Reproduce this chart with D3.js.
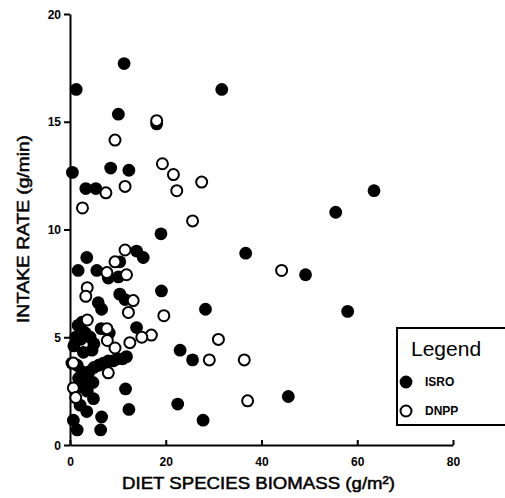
<!DOCTYPE html>
<html>
<head>
<meta charset="utf-8">
<script src="https://cdn.jsdelivr.net/npm/d3@7"></script>
<style>
  body { margin: 0; background: #fff; }
  text { font-family: "Liberation Sans", Arial, sans-serif; fill: #000; }
</style>
</head>
<body>
<script>
// ISRO points (filled), [biomass g/m2, intake g/min]
const isro = [
  [1.3,16.5],[11.3,17.7],[10.1,15.35],[31.7,16.5],[18.1,14.9],[0.5,12.65],[3.3,11.9],[5.4,11.9],
  [8.5,12.85],[12.3,12.75],[19.0,9.8],[63.5,11.8],[55.5,10.8],[36.7,8.9],[49.2,7.9],[58.0,6.2],
  [19.1,7.15],[28.3,6.3],[23.0,4.4],[25.6,3.95],[22.5,1.9],[27.8,1.15],[45.6,2.25],
  [3.5,8.7],[1.7,8.1],[5.6,8.1],[13.9,9.0],[15.3,8.7],[10.4,8.5],[8.0,7.75],[10.1,7.8],
  [5.9,6.6],[6.6,6.3],[10.4,7.0],[11.5,6.75],[13.9,5.45],[8.2,5.2],[6.5,5.4],
  [1.7,5.55],[2.5,5.7],[0.8,4.6],[1.2,5.0],[2.2,4.9],[3.2,5.2],[4.2,5.0],[5.0,4.7],[4.6,4.4],
  [2.8,4.3],[0.4,3.8],[1.5,3.7],[2.5,3.4],[1.8,3.1],[3.2,3.0],[4.0,3.4],[5.0,3.6],[6.0,3.7],
  [7.0,3.8],[8.0,3.9],[9.0,3.9],[10.0,4.0],[11.0,4.0],[11.8,4.1],[2.5,2.7],[3.6,2.5],[4.8,2.9],
  [4.9,2.15],[2.1,1.85],[3.5,1.55],[0.7,1.15],[1.5,0.7],[6.6,1.3],[6.4,0.7],[11.6,2.6],[12.3,1.65]
];
// DNPP points (open)
const dnpp = [
  [18.1,15.05],[9.4,14.15],[19.3,13.05],[21.6,12.55],[22.3,11.8],[27.5,12.2],[7.5,11.7],[11.5,12.0],
  [2.6,11.0],[25.6,10.4],[44.2,8.1],[19.6,6.0],[17.0,5.1],[31.0,4.9],[29.1,3.95],[36.4,3.95],[37.1,2.05],
  [11.5,9.05],[9.4,8.5],[7.7,8.0],[11.8,7.9],[3.6,7.3],[3.3,6.9],[13.2,6.7],[12.2,6.15],
  [7.7,5.4],[3.6,5.8],[7.8,4.85],[9.4,4.5],[12.5,4.75],[15.0,5.0],[8.0,3.35],
  [0.7,3.8],[0.7,2.65],[1.2,2.2]
];
const xTicks = [0, 20, 40, 60, 80];
const yTicks = [0, 5, 10, 15, 20];
const legendItems = ["ISRO", "DNPP"];

const width = 505, height = 498;
const x = d3.scaleLinear().domain([0, 80]).range([70, 453]);
const y = d3.scaleLinear().domain([0, 20]).range([445, 14]);

const svg = d3.select("body").append("svg")
  .attr("width", width).attr("height", height);

// axes
const xAxis = svg.append("g")
  .attr("transform", `translate(0,${y(0)})`)
  .call(d3.axisBottom(x).tickValues(xTicks).tickSizeInner(-5).tickSizeOuter(0).tickPadding(12));
const yAxis = svg.append("g")
  .attr("transform", `translate(${x(0)},0)`)
  .call(d3.axisLeft(y).tickValues(yTicks).tickSize(6).tickSizeOuter(0).tickPadding(3));

[xAxis, yAxis].forEach(g => {
  g.select(".domain").attr("stroke", "#000").attr("stroke-width", 2);
  g.selectAll(".tick line").attr("stroke", "#000").attr("stroke-width", 2);
  g.selectAll(".tick text")
    .attr("font-family", "'DejaVu Sans', sans-serif")
    .attr("font-weight", "bold").attr("font-size", 12).attr("fill", "#000");
});
yAxis.selectAll(".tick text").attr("dy", "0.35em");

// axis titles
svg.append("text")
  .attr("x", x(40) - 3).attr("y", 489)
  .attr("text-anchor", "middle")
  .attr("font-size", 17).attr("stroke", "#000").attr("stroke-width", 0.5)
  .attr("textLength", 273).attr("lengthAdjust", "spacingAndGlyphs")
  .text("DIET SPECIES BIOMASS (g/m²)");

svg.append("text")
  .attr("transform", `translate(29,229) rotate(-90)`)
  .attr("text-anchor", "middle")
  .attr("font-size", 17).attr("stroke", "#000").attr("stroke-width", 0.5)
  .attr("textLength", 188).attr("lengthAdjust", "spacingAndGlyphs")
  .text("INTAKE RATE (g/min)");

// points
svg.append("g").selectAll("circle")
  .data(isro).join("circle")
  .attr("cx", d => x(d[0])).attr("cy", d => y(d[1]))
  .attr("r", 6.4).attr("fill", "#000");

svg.append("g").selectAll("circle")
  .data(dnpp).join("circle")
  .attr("cx", d => x(d[0])).attr("cy", d => y(d[1]))
  .attr("r", 5.5).attr("fill", "#fff").attr("stroke", "#000").attr("stroke-width", 2);

// legend
const lg = svg.append("g");
lg.append("rect")
  .attr("x", 397).attr("y", 328).attr("width", 120).attr("height", 97)
  .attr("fill", "#fff").attr("stroke", "#000").attr("stroke-width", 2);
lg.append("text").attr("x", 411).attr("y", 356).attr("font-size", 21).text("Legend");
lg.selectAll(".item")
  .data(legendItems).join("g")
  .attr("transform", (d, i) => `translate(406,${382 + i * 29})`)
  .each(function (d, i) {
    const g = d3.select(this);
    g.append("circle").attr("r", i === 0 ? 6.4 : 5.5)
      .attr("fill", i === 0 ? "#000" : "#fff")
      .attr("stroke", "#000").attr("stroke-width", i === 0 ? 0 : 2);
    g.append("text").attr("x", 19).attr("dy", "0.35em")
      .attr("font-family", "'DejaVu Sans', sans-serif")
      .attr("font-weight", "bold").attr("font-size", 12).text(d);
  });
</script>
</body>
</html>
